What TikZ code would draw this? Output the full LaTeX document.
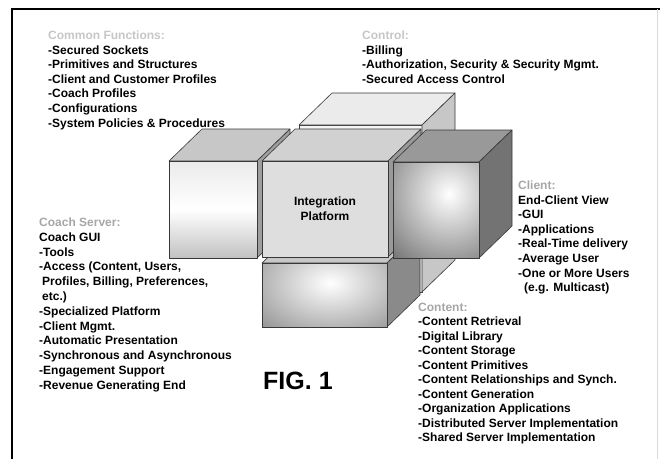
\documentclass[tikz,border=0pt]{standalone}
\usepackage{fontspec}
\setmainfont{Liberation Sans}
\begin{document}
\begin{tikzpicture}[x=1pt,y=-1pt,
  edge/.style={draw=black!78,line width=0.6pt,line join=round},
  txt/.style={anchor=north west,inner sep=0pt,align=left,font=\fontsize{12}{14.6}\selectfont\bfseries}]
\definecolor{hdA}{HTML}{C6C6C6}
\definecolor{hdB}{HTML}{A6A6A6}
\useasboundingbox (0,0) rectangle (660,459);
% frame
\draw[line width=1.6pt] (12,459) -- (12,9) -- (660,9);
\draw[black!15,line width=0.8pt] (657.5,9) -- (657.5,459);

% Control (back) box
\fill[edge,fill=black!4] (299,125) rectangle (422,292);
\fill[edge,fill=black!8] (299,125) -- (332,93) -- (455,93) -- (422,125) -- cycle;
\fill[edge,fill=black!22] (422,125) -- (455,93) -- (455,260) -- (422,292) -- cycle;

% Content (bottom) box
\fill[edge,fill=black!22] (262,263) -- (295,231) -- (420,231) -- (387,263) -- cycle;
\fill[edge,fill=black!46] (387,263) -- (420,231) -- (420,295) -- (387,327) -- cycle;
\path[fill=black!45,path picture={\shade[inner color=white,outer color=black!52] (330,283) ellipse (120 and 78);}] (262,263) rectangle (387,327);
\draw[edge] (262,263) rectangle (387,327);

% Left box
\fill[edge,fill=black!22] (169,161) -- (202,129) -- (290,129) -- (257,161) -- cycle;
\fill[edge,fill=black!38] (257,161) -- (290,129) -- (290,226) -- (257,258) -- cycle;
\shade[top color=black!8,bottom color=black!24,middle color=white] (169,161) rectangle (257,258);
\draw[edge] (169,161) rectangle (257,258);

% Center box
\fill[edge,fill=black!18] (262,161) -- (295,129) -- (421,129) -- (388,161) -- cycle;
\fill[edge,fill=black!40] (388,161) -- (421,129) -- (421,225) -- (388,257) -- cycle;
\fill[edge,fill=black!13] (262,161) rectangle (388,257);
\node[font=\fontsize{12}{14.6}\selectfont\bfseries,align=center,inner sep=0pt] (ip) at (325,209) {Integration\\Platform};

% Right (client) box
\fill[edge,fill=black!40] (393,162) -- (426,130) -- (512,130) -- (479,162) -- cycle;
\fill[edge,fill=black!55] (479,162) -- (512,130) -- (512,226) -- (479,258) -- cycle;
\path[fill=black!55,path picture={\shade[inner color=white,outer color=black!62] (449,194) ellipse (95 and 100);}] (393,162) rectangle (479,258);
\draw[edge] (393,162) rectangle (479,258);

% Texts
\node[txt] (common) at (48,30.5) {\textcolor{hdA}{Common Functions:}\\-Secured Sockets\\-Primitives and Structures\\-Client and Customer Profiles\\-Coach Profiles\\-Configurations\\-System Policies \& Procedures};
\node[txt] (control) at (362,30.5) {\textcolor{hdA}{Control:}\\-Billing\\-Authorization, Security \& Security Mgmt.\\-Secured Access Control};
\node[txt] (client) at (518,180.5) {\textcolor{hdB}{Client:}\\End-Client View\\-GUI\\-Applications\\-Real-Time delivery\\-Average User\\-One or More Users\\\hspace*{6pt}(e.g. Multicast)};
\node[txt,font=\fontsize{12}{14.5}\selectfont\bfseries] (content) at (418,302.5) {\textcolor{hdB}{Content:}\\-Content Retrieval\\-Digital Library\\-Content Storage\\-Content Primitives\\-Content Relationships and Synch.\\-Content Generation\\-Organization Applications\\-Distributed Server Implementation\\-Shared Server Implementation};
\node[txt,font=\fontsize{12}{14.8}\selectfont\bfseries] (coach) at (39,217.5) {\textcolor{hdB}{Coach Server:}\\Coach GUI\\-Tools\\-Access (Content, Users,\\\hspace*{3pt}Profiles, Billing, Preferences,\\\hspace*{3pt}etc.)\\-Specialized Platform\\-Client Mgmt.\\-Automatic Presentation\\-Synchronous and Asynchronous\\-Engagement Support\\-Revenue Generating End};
\node[anchor=west,inner sep=0pt,font=\fontsize{25}{28}\selectfont\bfseries] (fig) at (263,381) {FIG. 1};
\end{tikzpicture}
\end{document}
